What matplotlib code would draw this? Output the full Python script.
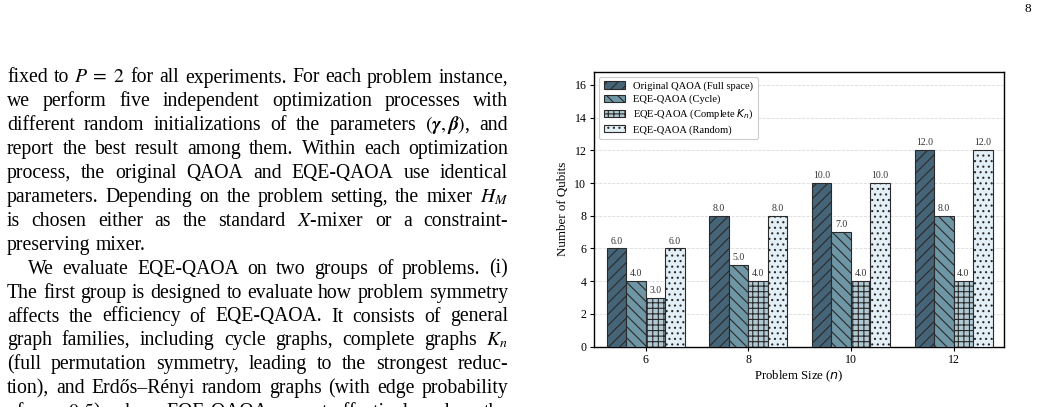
import matplotlib
matplotlib.use('Agg')
import matplotlib.pyplot as plt
import numpy as np

# chart data
problem_sizes = [6, 8, 10, 12]
original_qaoa = [6.0, 8.0, 10.0, 12.0]
eqe_cycle = [4.0, 5.0, 7.0, 8.0]
eqe_complete = [3.0, 4.0, 4.0, 4.0]
eqe_random = [6.0, 8.0, 10.0, 12.0]
series_labels = ['Original QAOA (Full space)', 'EQE-QAOA (Cycle)',
                 'EQE-QAOA (Complete $K_n$)', 'EQE-QAOA (Random)']
y_ticks = [0, 2, 4, 6, 8, 10, 12, 14, 16]

# page text next to the chart, one entry per printed line
page_lines = [
    'fixed to $P\\;=\\;2$ for all experiments. For each problem instance,',
    'we perform five independent optimization processes with',
    'different random initializations of the parameters $(\\boldsymbol{\\gamma}, \\boldsymbol{\\beta})$, and',
    'report the best result among them. Within each optimization',
    'process, the original QAOA and EQE-QAOA use identical',
    'parameters. Depending on the problem setting, the mixer $H_M$',
    'is chosen either as the standard $X$-mixer or a constraint-',
    'preserving mixer.',
    'We evaluate EQE-QAOA on two groups of problems. (i)',
    'The first group is designed to evaluate how problem symmetry',
    'affects the efficiency of EQE-QAOA. It consists of general',
    'graph families, including cycle graphs, complete graphs $K_n$',
    '(full permutation symmetry, leading to the strongest reduc-',
    'tion), and Erdős–Rényi random graphs (with edge probability',
    'of $p\\;=\\;0.5$), where EQE-QAOA cannot effectively reduce the',
]
paragraph_ends = [7]
indented = [8]

W, H = 1041, 407


def split_tokens(line):
    # split on spaces but keep $...$ pieces together
    toks, cur, in_math = [], '', False
    for ch in line:
        if ch == '$':
            in_math = not in_math
        if ch == ' ' and not in_math:
            if cur:
                toks.append(cur)
            cur = ''
        else:
            cur += ch
    if cur:
        toks.append(cur)
    return toks


def draw_page_text(fig):
    renderer = fig.canvas.get_renderer()
    kw = dict(fontsize=14.2, family='Liberation Serif', math_fontfamily='stix',
              va='baseline', ha='left', transform=fig.transFigure)
    a = fig.text(0, 0, 'a a', **kw)
    b = fig.text(0, 0, 'aa', **kw)
    space = a.get_window_extent(renderer).width - b.get_window_extent(renderer).width
    a.remove()
    b.remove()

    x0, x1 = 7, 508
    y = 82.5
    for i, line in enumerate(page_lines):
        start = x0 + (21 if i in indented else 0)
        texts = [fig.text(0, 0, t, **kw) for t in split_tokens(line)]
        widths = [t.get_window_extent(renderer).width for t in texts]
        if i in paragraph_ends or len(texts) < 2:
            gap = space
        else:
            gap = (x1 - start - sum(widths)) / (len(texts) - 1)
        x = start
        for t, w in zip(texts, widths):
            t.set_position((x / W, 1 - y / H))
            x += w + gap
        y += 23.9


def draw_chart(fig):
    ax = fig.add_axes([594 / W, 1 - 346.7 / H, 410 / W, 275 / H])
    x = np.arange(len(problem_sizes))
    width = 0.19
    series = [original_qaoa, eqe_cycle, eqe_complete, eqe_random]
    colors = ['#466478', '#6e96a5', '#b0c9d5', '#e3eff6']
    hatches = ['///', '\\\\\\', '+++', '...']
    for k, (vals, c, h, lab) in enumerate(zip(series, colors, hatches, series_labels)):
        bars = ax.bar(x + (k - 1.5) * width, vals, width, color=c, hatch=h,
                      edgecolor='#2a2a2a', linewidth=0.8, label=lab, zorder=3)
        ax.bar_label(bars, fmt='%.1f', padding=2, fontsize=7,
                     family='Liberation Serif', color='#333333')

    ax.set_xticks(x)
    ax.set_xticklabels([str(s) for s in problem_sizes])
    ax.set_yticks(y_ticks)
    ax.set_xlim(-0.505, 3.492)
    ax.set_ylim(0, 16.8)
    ax.tick_params(labelsize=8.6, length=3, width=0.8, pad=2.5)
    for lab in ax.get_xticklabels() + ax.get_yticklabels():
        lab.set_family('Liberation Serif')
    ax.set_xlabel('Problem Size ($n$)', fontsize=9.2, family='Liberation Serif', labelpad=1.5)
    ax.set_ylabel('Number of Qubits', fontsize=9.4, family='Liberation Serif', labelpad=4)
    ax.grid(axis='y', linestyle='--', color='#cccccc', linewidth=0.6, alpha=0.7, zorder=0)
    for s in ax.spines.values():
        s.set_linewidth(1.0)
    leg = ax.legend(loc='upper left', prop={'family': 'Liberation Serif', 'size': 7.6},
                    labelspacing=0.35, framealpha=1, edgecolor='#cccccc',
                    borderaxespad=0.5)
    leg.get_frame().set_linewidth(0.8)


def main():
    plt.rcParams['hatch.linewidth'] = 0.8
    fig = plt.figure(figsize=(W / 100, H / 100), dpi=100)
    draw_chart(fig)
    draw_page_text(fig)
    fig.text(1028 / W, 1 - 12 / H, '8', fontsize=9.5, family='Liberation Serif',
             ha='center', va='baseline')
    fig.savefig('out.png', dpi=100)


if __name__ == '__main__':
    main()
